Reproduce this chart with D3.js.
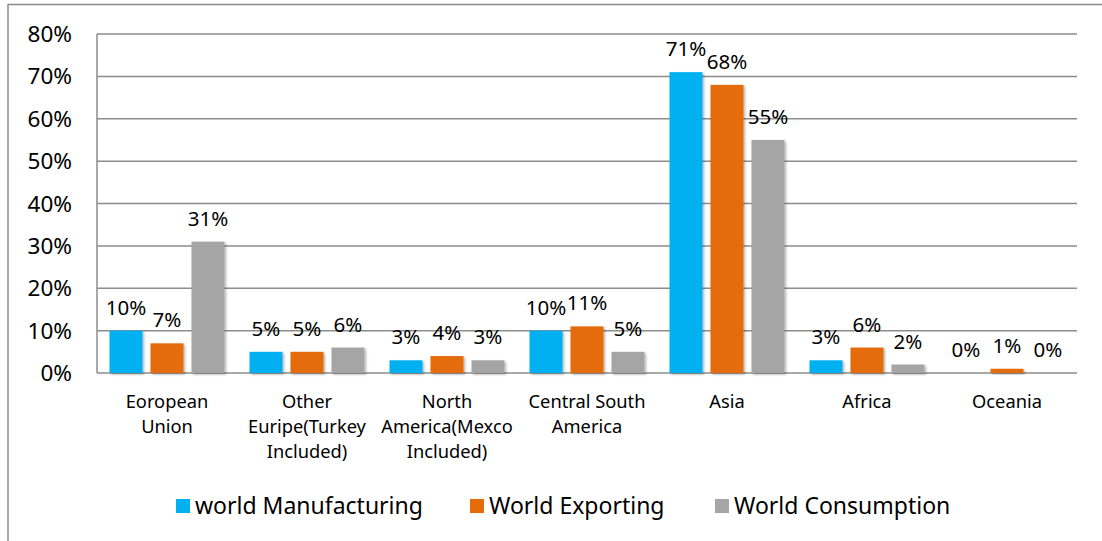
<!DOCTYPE html>
<html>
<head>
<meta charset="utf-8">
<script src="https://cdn.jsdelivr.net/npm/d3@7"></script>
<style>
  body { margin: 0; background: #fff; }
  svg text { font-family: "Noto Sans", sans-serif; fill: #000; }
</style>
</head>
<body>
<svg id="chart" width="1102" height="541"></svg>
<script>
// categories (each entry is the wrapped label lines)
const categories = ["Eoropean Union", "Other Euripe(Turkey Included)", "North America(Mexco Included)",
  "Central South America", "Asia", "Africa", "Oceania"];
const categoryLines = [
  ["Eoropean", "Union"],
  ["Other", "Euripe(Turkey", "Included)"],
  ["North", "America(Mexco", "Included)"],
  ["Central South", "America"],
  ["Asia"],
  ["Africa"],
  ["Oceania"]
];
const seriesNames = ["world Manufacturing", "World Exporting", "World Consumption"];
const seriesColors = ["#00b0f0", "#e46c0a", "#a5a5a5"];

// values in %
const manufacturing = [10, 5, 3, 10, 71, 3, 0];
const exporting = [7, 5, 4, 11, 68, 6, 1];
const consumption = [31, 6, 3, 5, 55, 2, 0];
const yTicks = [0, 10, 20, 30, 40, 50, 60, 70, 80];

const seriesValues = [manufacturing, exporting, consumption];

const svg = d3.select("#chart");

const plotLeft = 97, plotRight = 1077, plotTop = 34, plotBottom = 373;

// outer frame (top and left edges visible)
svg.append("path")
  .attr("d", "M8,541 V4.5 H1102")
  .attr("fill", "none")
  .attr("stroke", "#8c8c8c")
  .attr("stroke-width", 1.5);

const defs = svg.append("defs");
const f = defs.append("filter").attr("id", "shadow")
  .attr("x", "-20%").attr("y", "-20%").attr("width", "150%").attr("height", "150%");
f.append("feDropShadow")
  .attr("dx", 1.5).attr("dy", 1.5).attr("stdDeviation", 1.2)
  .attr("flood-color", "#000").attr("flood-opacity", 0.3);

const x0 = d3.scaleBand().domain(categories).range([plotLeft, plotRight]).padding(0);
const x1 = d3.scaleBand().domain(seriesNames).range([0, x0.bandwidth()])
  .paddingInner(0.195).paddingOuter(0.305);
const y = d3.scaleLinear().domain([0, 80]).range([plotBottom, plotTop]);

// gridlines
svg.append("g").selectAll("line")
  .data(yTicks)
  .join("line")
  .attr("x1", plotLeft).attr("x2", plotRight)
  .attr("y1", d => y(d)).attr("y2", d => y(d))
  .attr("stroke", "#8c8c8c")
  .attr("stroke-width", 1.5);

// left axis line
svg.append("line")
  .attr("x1", plotLeft).attr("x2", plotLeft)
  .attr("y1", y(80)).attr("y2", y(0))
  .attr("stroke", "#8c8c8c")
  .attr("stroke-width", 1.5);

// y tick labels
svg.append("g").selectAll("text")
  .data(yTicks)
  .join("text")
  .attr("x", 72)
  .attr("y", d => y(d))
  .attr("dy", "0.36em")
  .attr("text-anchor", "end")
  .attr("font-size", 22.5)
  .text(d => d + "%");

// bars
const groups = svg.append("g").selectAll("g")
  .data(categories)
  .join("g")
  .attr("transform", d => `translate(${x0(d)},0)`);

groups.selectAll("rect")
  .data((d, i) => seriesNames.map((s, j) => ({ s, v: seriesValues[j][i], c: seriesColors[j] })))
  .join("rect")
  .attr("x", d => x1(d.s))
  .attr("width", x1.bandwidth())
  .attr("y", d => y(d.v))
  .attr("height", d => y(0) - y(d.v))
  .attr("fill", d => d.c)
  .attr("filter", "url(#shadow)");

// data labels
groups.selectAll("text")
  .data((d, i) => seriesNames.map((s, j) => ({ s, v: seriesValues[j][i] })))
  .join("text")
  .attr("x", d => x1(d.s) + x1.bandwidth() / 2)
  .attr("y", d => y(d.v) - 16)
  .attr("text-anchor", "middle")
  .attr("font-size", 20.5)
  .text(d => d.v + "%");

// category labels
svg.append("g").selectAll("text")
  .data(categories)
  .join("text")
  .attr("x", d => x0(d) + x0.bandwidth() / 2)
  .attr("y", 408)
  .attr("text-anchor", "middle")
  .attr("font-size", 18.3)
  .each(function (d, i) {
    d3.select(this).selectAll("tspan")
      .data(categoryLines[i])
      .join("tspan")
      .attr("x", x0(d) + x0.bandwidth() / 2)
      .attr("dy", (t, k) => k === 0 ? 0 : 25)
      .text(t => t);
  });

// legend
const legendX = [176, 470, 715];
const legend = svg.append("g").selectAll("g")
  .data(seriesNames)
  .join("g")
  .attr("transform", (d, i) => `translate(${legendX[i]},506)`);
legend.append("rect")
  .attr("x", 0).attr("y", -7)
  .attr("width", 14).attr("height", 14)
  .attr("fill", (d, i) => seriesColors[i]);
legend.append("text")
  .attr("x", 19)
  .attr("y", 0)
  .attr("dy", "0.36em")
  .attr("font-size", 23)
  .text(d => d);
</script>
</body>
</html>
